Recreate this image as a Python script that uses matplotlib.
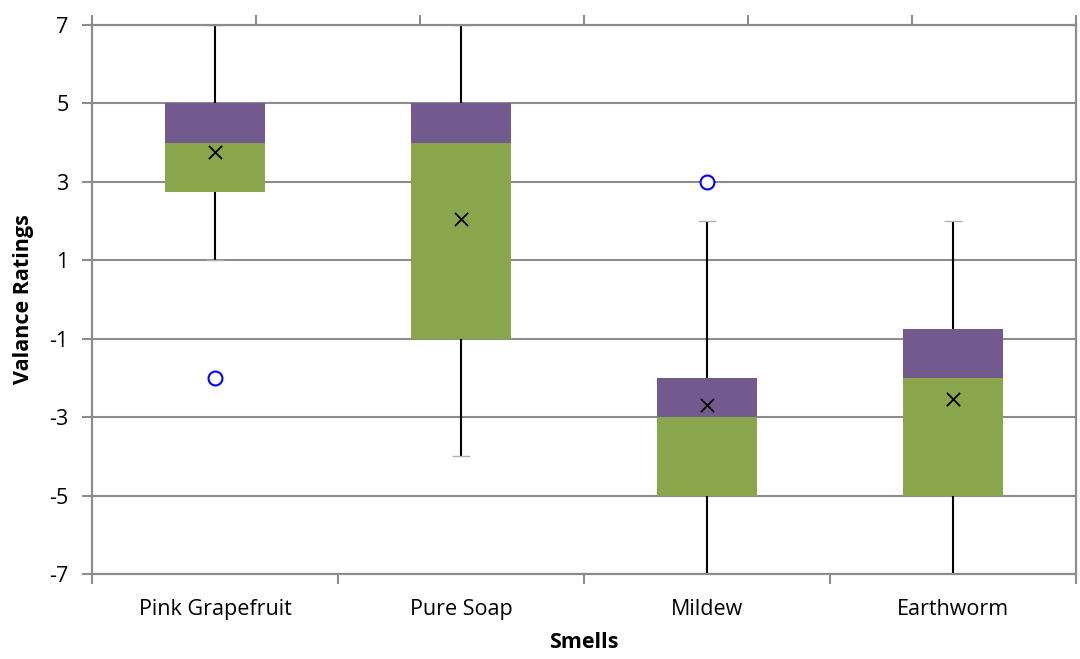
import numpy as np
import matplotlib.pyplot as plt

plt.rcParams['font.family'] = ['Open Sans', 'DejaVu Sans']
plt.rcParams['axes.unicode_minus'] = False

smells = ["Pink Grapefruit", "Pure Soap", "Mildew", "Earthworm"]
q1 = [2.75, -1, -5, -5]
median = [4, 4, -3, -2]
q3 = [5, 5, -2, -0.75]
lo = [1, -4, -7, -7]
hi = [7, 7, 2, 2]
means = [3.75, 2.05, -2.7, -2.55]
outlier_x = [0, 2]
outlier_y = [-2, 3]

green = "#8aa64c"
purple = "#725a8e"
grid_c = "#8c8c8c"

fig = plt.figure(figsize=(10.8, 6.59), dpi=100)
ax = fig.add_axes([92/1080, 1-574/659, (1076-92)/1080, (574-25)/659])

x = np.arange(len(smells))
q1 = np.array(q1); median = np.array(median); q3 = np.array(q3)

# whiskers
ax.vlines(x, lo, q1, color="black", lw=1.5, zorder=2)
ax.vlines(x, q3, hi, color="black", lw=1.5, zorder=2)
ax.hlines(lo, x-0.035, x+0.035, color="#b0b0b0", lw=1, zorder=2)
ax.hlines(hi, x-0.035, x+0.035, color="#b0b0b0", lw=1, zorder=2)

# box parts
ax.bar(x, median - q1, bottom=q1, width=0.41, color=green, zorder=3)
ax.bar(x, q3 - median, bottom=median, width=0.41, color=purple, zorder=3)

ax.scatter(x, means, marker="x", s=90, color="black", linewidths=1.3, zorder=4)
ax.scatter(outlier_x, outlier_y, marker="o", s=100, facecolor="white",
           edgecolor="blue", linewidths=1.5, zorder=4)

ax.set_xlim(-0.5, 3.5)
ax.set_ylim(-7, 7)
ax.set_yticks(np.arange(-7, 8, 2))
ax.set_xticks(x)
ax.set_xticklabels(smells, fontsize=15.5)
ax.set_xticks(np.arange(-0.5, 3.6, 1), minor=True)
ax.tick_params(axis="x", which="major", length=0, pad=18)
ax.tick_params(axis="x", which="minor", length=7, width=1.5, color=grid_c)
ax.tick_params(axis="y", length=7, width=1.5, color=grid_c, labelsize=15.5, pad=10)
ax.yaxis.grid(True, color=grid_c, lw=1.5, zorder=0)
ax.set_axisbelow(True)
for s in ax.spines.values():
    s.set_color(grid_c)
    s.set_linewidth(1.5)

ax.set_xlabel("Smells", fontsize=15.5, fontweight="bold", labelpad=9)
ax.set_ylabel("Valance Ratings", fontsize=15.5, fontweight="bold", labelpad=11)

# secondary top axis (ticks only)
top = ax.twiny()
top.set_xlim(0, 6)
top.set_xticks(np.arange(0, 7, 1))
top.set_xticklabels([])
top.tick_params(axis="x", length=7, width=1.5, color=grid_c)
for s in top.spines.values():
    s.set_color(grid_c)
    s.set_linewidth(1.5)

fig.savefig("out.png", dpi=100)
